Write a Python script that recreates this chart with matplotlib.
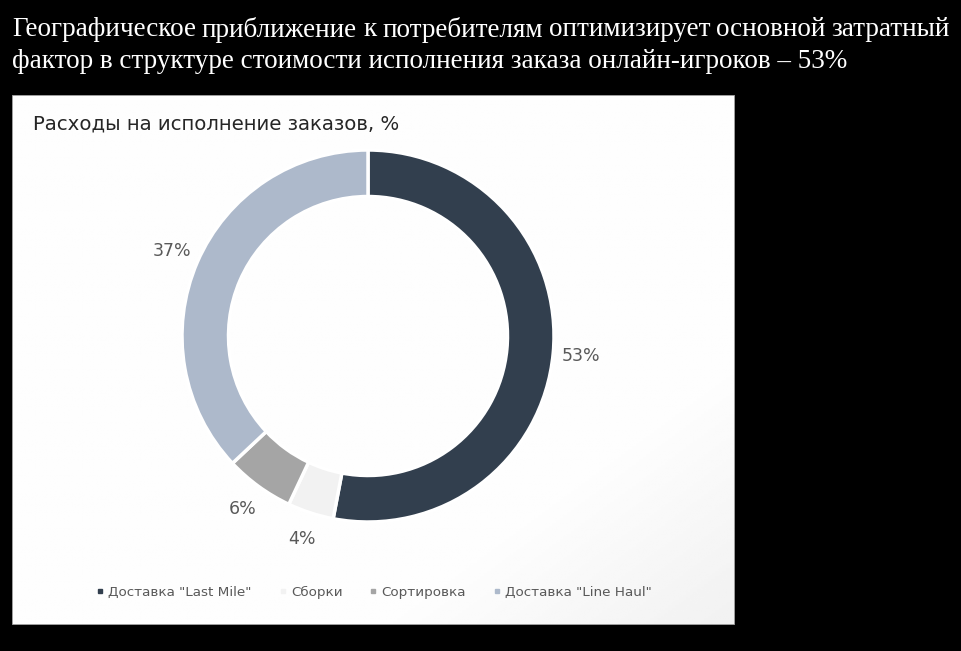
import numpy as np
import matplotlib
matplotlib.use("Agg")
import matplotlib.pyplot as plt
from matplotlib.lines import Line2D
from matplotlib.patches import Rectangle

# Data
categories = ['Доставка "Last Mile"', 'Сборки', 'Сортировка', 'Доставка "Line Haul"']
shares = [53, 4, 6, 37]
colors = ['#323F4E', '#F2F2F2', '#A5A5A5', '#ADB9CB']
heading = ["Географическое приближение к потребителям оптимизирует основной затратный",
           "фактор в структуре стоимости исполнения заказа онлайн-игроков – 53%"]
chart_title = "Расходы на исполнение заказов, %"

W, H = 961, 651
fig = plt.figure(figsize=(W / 100, H / 100), dpi=100, facecolor="black")
serif = "Liberation Serif"
sans = "DejaVu Sans"
hsize = 19.55

# Heading (first line justified)
renderer = fig.canvas.get_renderer()
x0, x1 = 12, 950
words = heading[0].split()
tmp = [fig.text(0, 0, w, fontsize=hsize, family=serif) for w in words]
widths = [t.get_window_extent(renderer).width for t in tmp]
for t in tmp:
    t.remove()
gap = (x1 - x0 - sum(widths)) / (len(words) - 1)
x = x0
for w, wd in zip(words, widths):
    fig.text(x / W, 1 - 30 / H, w, fontsize=hsize, family=serif, color="white", va="center")
    x += wd + gap
fig.text(x0 / W, 1 - 62 / H, heading[1], fontsize=hsize, family=serif, color="white", va="center")

# Light panel with a faint gradient
px0, px1, py0, py1 = 12, 735, 95, 625
pax = fig.add_axes([px0 / W, 1 - py1 / H, (px1 - px0) / W, (py1 - py0) / H])
gx, gy = np.meshgrid(np.linspace(0, 1, 200), np.linspace(0, 1, 200))
grad = np.clip((gx + gy - 1.5) * 2, 0, 1)
pax.imshow(0.995 - 0.05 * grad, cmap="gray", vmin=0, vmax=1, extent=[0, 1, 0, 1], aspect="auto")
pax.add_patch(Rectangle((0, 0), 1, 1, fill=False, edgecolor="#8A8A8A", lw=1.2, transform=pax.transAxes))
pax.set_xticks([])
pax.set_yticks([])
for s in pax.spines.values():
    s.set_visible(False)

fig.text(33 / W, 1 - 124 / H, chart_title, fontsize=14.2, family=sans, color="#262626", va="center")

# Donut
cx, cy, r = 368, 336, 186
ax = fig.add_axes([(cx - r) / W, 1 - (cy + r) / H, 2 * r / W, 2 * r / H])
wedges, _, autotexts = ax.pie(shares, colors=colors, startangle=90, counterclock=False,
                              autopct=lambda p: f"{round(p):d}%", pctdistance=1.15,
                              wedgeprops=dict(width=0.25, edgecolor="white", linewidth=2.5))
for t in autotexts:
    t.set_fontsize(12.5)
    t.set_color("#595959")
    t.set_family(sans)
ax.set_xlim(-1, 1)
ax.set_ylim(-1, 1)

# Legend
handles = [Line2D([], [], marker="s", ls="none", color=c, markersize=3.5) for c in colors]
fig.legend(handles, categories, ncol=4, loc="center", bbox_to_anchor=(374 / W, 1 - 592 / H),
           frameon=False, labelcolor="#595959", handletextpad=0.3,
           columnspacing=2.0, handlelength=0.6, prop={"family": sans, "size": 9.7})

fig.savefig("out.png", dpi=100, facecolor="black")
